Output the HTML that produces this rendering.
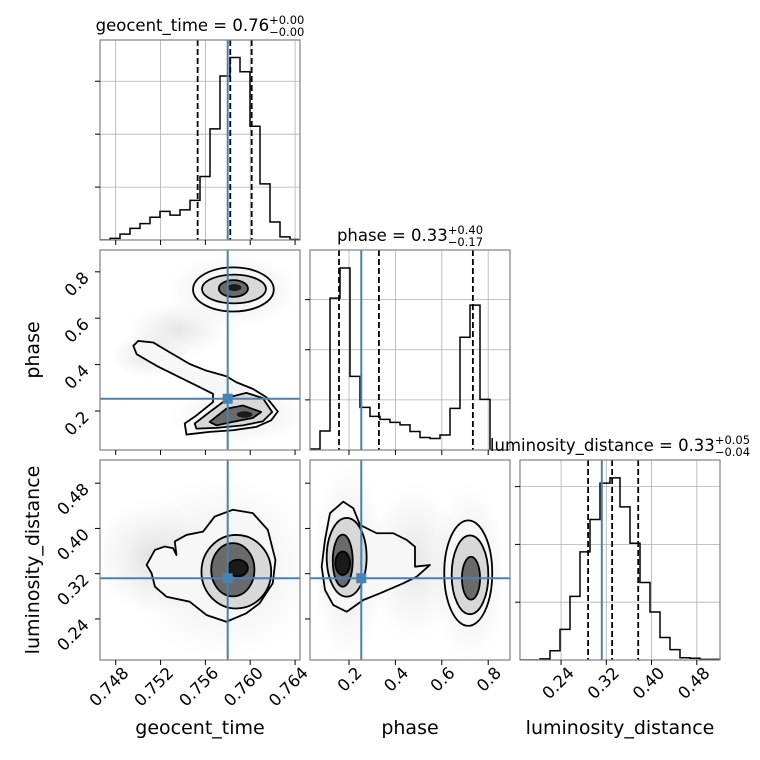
<!DOCTYPE html>
<html><head><meta charset="utf-8"><style>
html,body{margin:0;padding:0;background:#fff;}
svg{display:block;font-family:"DejaVu Sans","Liberation Sans",sans-serif;}
</style></head><body>
<svg id="c" width="760" height="760" viewBox="0 0 760 760"></svg>
<script>
// ---- data ----
const geoRange=[0.7466,0.76444];
const phaseRange=[0.032,0.894];
const lumRange=[0.1674,0.521];
const geoTicks=[0.748,0.752,0.756,0.760,0.764];
const geoTickLabels=["0.748","0.752","0.756","0.760","0.764"];
const phaseTicks=[0.2,0.4,0.6,0.8];
const phaseTickLabels=["0.2","0.4","0.6","0.8"];
const lumTicks=[0.24,0.32,0.40,0.48];
const lumTickLabels=["0.24","0.32","0.40","0.48"];
const geoHist=[0,0.03,0.11,0.22,0.31,0.43,0.54,0.47,0.57,0.75,1.2,2.1,3.1,3.45,3.18,2.15,1.06,0.34,0.06,0.01];
const phaseHist=[0.02,0.38,3.03,3.63,1.47,0.85,0.67,0.61,0.55,0.5,0.37,0.25,0.23,0.3,0.83,2.25,2.89,1.01,0,0];
const lumHist=[0,0,0.02,0.16,0.53,1.1,1.87,2.43,3.06,3.15,2.65,2.02,1.34,0.83,0.39,0.18,0.04,0.03,0.01,0.01];
const histMax=[3.78,3.99,3.46];
const geoTruth=0.75799, phaseTruth=0.253, lumTruth=0.312;
const geoQuant=[0.75531,0.75822,0.76013];
const phaseQuant=[0.157,0.329,0.734];
const lumQuant=[0.2878,0.3303,0.3764];
// contours (data units)
const gpOuterBottom=[[0.74957,0.481],[0.75001,0.502],[0.75134,0.4955],[0.75283,0.4527],[0.7546,0.4026],[0.75609,0.374],[0.75787,0.35],[0.75876,0.324],[0.76023,0.2955],[0.76142,0.26],[0.76246,0.198],[0.76187,0.16],[0.76053,0.1315],[0.75845,0.117],[0.75638,0.11],[0.75431,0.0985],[0.75416,0.146],[0.7552,0.181],[0.75668,0.2385],[0.75668,0.274],[0.7552,0.3096],[0.75342,0.3525],[0.75164,0.395],[0.74987,0.445]];
const gpMidBottom=[[0.75505,0.146],[0.75638,0.1957],[0.75816,0.26],[0.75965,0.2784],[0.76112,0.2557],[0.76196,0.1957],[0.76112,0.1555],[0.75934,0.1383],[0.75698,0.1272],[0.7552,0.1242]];
const gpInnerBottom=[[0.75638,0.153],[0.75787,0.2099],[0.75934,0.224],[0.76098,0.1957],[0.76023,0.17],[0.75845,0.153],[0.75698,0.1383]];
const gpTopEllipses=[[0.7585,0.724,0.0036,0.095],[0.75855,0.726,0.00285,0.062],[0.7585,0.728,0.0013,0.036]];
const glOuter=[[0.75076,0.3354],[0.7515,0.362],[0.75238,0.368],[0.75312,0.365],[0.75342,0.353],[0.75327,0.377],[0.75431,0.3885],[0.75579,0.3943],[0.75683,0.421],[0.75845,0.433],[0.76023,0.427],[0.76157,0.3974],[0.76225,0.3443],[0.76201,0.303],[0.76083,0.2676],[0.75965,0.25],[0.75787,0.235],[0.75609,0.247],[0.7546,0.2705],[0.75253,0.2793],[0.7515,0.297],[0.7512,0.321]];
const glEllipses=[[0.75876,0.3235,0.00311,0.065],[0.75845,0.327,0.00193,0.047],[0.7589,0.330,0.00089,0.0147]];
const plOuterLeft=[[0.0823,0.3324],[0.0966,0.3796],[0.1181,0.4269],[0.1754,0.4474],[0.2185,0.4358],[0.2474,0.4062],[0.3194,0.3915],[0.391,0.3915],[0.4487,0.3796],[0.4845,0.3678],[0.4845,0.3324],[0.549,0.3354],[0.4918,0.3147],[0.434,0.303],[0.3336,0.2853],[0.2616,0.2735],[0.1901,0.2527],[0.1323,0.2646],[0.0966,0.2912]];
const plLeftEllipses=[[0.19,0.349,0.086,0.0696],[0.173,0.343,0.043,0.046],[0.173,0.3384,0.0316,0.0207]];
const plRightEllipses=[[0.714,0.321,0.1034,0.0933],[0.7216,0.318,0.079,0.0696],[0.7259,0.312,0.039,0.038]];
const levelFills=["#f7f7f7","#d8d8d8","#6a6a6a","#1a1a1a"];

// ---- layout ----
const NS="http://www.w3.org/2000/svg";
const svg=document.getElementById('c');
const colX=[100,310,520], rowY=[40,250,460], S=200;
function el(tag,attrs,parent){const e=document.createElementNS(NS,tag);for(const k in attrs)e.setAttribute(k,attrs[k]);(parent||svg).appendChild(e);return e;}
function scaleX(range,col){return v=>colX[col]+(v-range[0])/(range[1]-range[0])*S;}
function scaleY(range,row){return v=>rowY[row]+S-(v-range[0])/(range[1]-range[0])*S;}
const ranges=[geoRange,phaseRange,lumRange];
const ticks=[geoTicks,phaseTicks,lumTicks];
const tickLabels=[geoTickLabels,phaseTickLabels,lumTickLabels];
const hists=[geoHist,phaseHist,lumHist];
const truths=[geoTruth,phaseTruth,lumTruth];
const quants=[geoQuant,phaseQuant,lumQuant];
const names=["geocent","phase","luminosity"];
const TF=16.5;

function clip(id,col,row){const cp=el('clipPath',{id:id});el('rect',{x:colX[col],y:rowY[row],width:S,height:S},cp);return 'url(#'+id+')';}
const defs=el('defs',{});
const grad=el('radialGradient',{id:'halo'},defs);
el('stop',{offset:'0','stop-color':'#aaa','stop-opacity':'0.3'},grad);
el('stop',{offset:'1','stop-color':'#bbb','stop-opacity':'0'},grad);

function frame(col,row,name){
  const r=el('rect',{x:colX[col],y:rowY[row],width:S,height:S,fill:'none',stroke:'#808080','stroke-width':1.2});
  
  
}
function xTicks(col,row,labels){
  const sx=scaleX(ranges[col],col);const y0=rowY[row]+S;
  ticks[col].forEach((t,i)=>{
    const x=sx(t);
    el('line',{x1:x,x2:x,y1:y0,y2:y0+5,stroke:'#000','stroke-width':1});
    if(labels){
      const tx=el('text',{x:x+14,y:y0+14,'text-anchor':'end','font-size':TF,transform:`rotate(-45 ${x+14} ${y0+14})`});
      tx.textContent=tickLabels[col][i];
      
      
    }
  });
}
function yTicks(col,row,axisIdx,labels){
  const sy=scaleY(ranges[axisIdx],row);const x0=colX[col];
  ticks[axisIdx].forEach((t,i)=>{
    const y=sy(t);
    el('line',{x1:x0-5,x2:x0,y1:y,y2:y,stroke:'#000','stroke-width':1});
    if(labels){
      const tx=el('text',{x:90,y:y+7,'text-anchor':'end','font-size':TF,transform:`rotate(-45 90 ${y+7})`});
      tx.textContent=tickLabels[axisIdx][i];
      
      
    }
  });
}

// ---- 1D histograms ----
for(let k=0;k<3;k++){
  const col=k,row=k;const sx=scaleX(ranges[k],col);
  const sy=v=>rowY[row]+S-v/histMax[k]*S;
  const g=el('g',{'clip-path':clip('cp'+k+k,col,row)});
  
  
  ticks[k].forEach(t=>el('line',{x1:sx(t),x2:sx(t),y1:rowY[row],y2:rowY[row]+S,stroke:'#b0b0b0','stroke-width':0.8},g));
  [1,2,3].forEach(v=>el('line',{x1:colX[col],x2:colX[col]+S,y1:sy(v),y2:sy(v),stroke:'#b0b0b0','stroke-width':0.8},g));
  const n=hists[k].length;const w=(ranges[k][1]-ranges[k][0])/n;
  let d='M'+sx(ranges[k][0])+','+sy(0);
  hists[k].forEach((v,i)=>{d+=' L'+sx(ranges[k][0]+i*w)+','+sy(v)+' L'+sx(ranges[k][0]+(i+1)*w)+','+sy(v);});
  d+=' L'+sx(ranges[k][1])+','+sy(0);
  const p=el('path',{d:d,fill:'none',stroke:'#000','stroke-width':1.5},g);
  
  
  quants[k].forEach(q=>{const l=el('line',{x1:sx(q),x2:sx(q),y1:rowY[row],y2:rowY[row]+S,stroke:'#000','stroke-width':1.8,'stroke-dasharray':'6,3'},g);
    
    });
  const tl=el('line',{x1:sx(truths[k]),x2:sx(truths[k]),y1:rowY[row],y2:rowY[row]+S,stroke:'#4682b4','stroke-width':2},g);
  
  
  frame(col,row,names[k]+'-hist');
  xTicks(col,row,k===2);
  [1,2,3].forEach(v=>el('line',{x1:colX[col]-5,x2:colX[col],y1:sy(v),y2:sy(v),stroke:'#000','stroke-width':1}));
}

// ---- 2D panels ----
function poly(pts,sx,sy,fill,g,name){
  const d='M'+pts.map(p=>sx(p[0])+','+sy(p[1])).join(' L')+' Z';
  const p=el('path',{d:d,fill:fill,stroke:'#000','stroke-width':1.8,'stroke-linejoin':'round'},g);
  
  
}
function ell(e,sx,sy,fill,g,name,stroke){
  const cx=sx(e[0]),cy=sy(e[1]);const rx=Math.abs(sx(e[0]+e[2])-cx),ry=Math.abs(sy(e[1]+e[3])-cy);
  const p=el('ellipse',{cx:cx,cy:cy,rx:rx,ry:ry,fill:fill,stroke:stroke===false?'none':'#000','stroke-width':1.8},g);
  
  
}
function halo(cx,cy,rx,ry,sx,sy,g){
  ell([cx,cy,rx,ry],sx,sy,'url(#halo)',g,'scatter-cloud',false);
}
function panel2d(col,row,xi,yi,draw){
  const sx=scaleX(ranges[xi],col),sy=scaleY(ranges[yi],row);
  const g=el('g',{'clip-path':clip('cp'+col+row,col,row)});
  
  
  draw(sx,sy,g);
  const vx=sx(truths[xi]),vy=sy(truths[yi]);
  el('line',{x1:vx,x2:vx,y1:rowY[row],y2:rowY[row]+S,stroke:'#4682b4','stroke-width':2},g);
  el('line',{x1:colX[col],x2:colX[col]+S,y1:vy,y2:vy,stroke:'#4682b4','stroke-width':2},g);
  const m=el('rect',{x:vx-5,y:vy-5,width:10,height:10,fill:'#4682b4'},g);
  
  
  frame(col,row,names[xi]+'-vs-'+names[yi]);
  xTicks(col,row,row===2);
  yTicks(col,row,yi,col===0);
}
panel2d(0,1,0,1,(sx,sy,g)=>{
  halo(0.7585,0.72,0.006,0.16,sx,sy,g);
  halo(0.7535,0.55,0.0045,0.12,sx,sy,g);
  halo(0.751,0.44,0.0035,0.1,sx,sy,g);
  halo(0.759,0.18,0.006,0.12,sx,sy,g);
  gpTopEllipses.forEach((e,i)=>ell(e,sx,sy,levelFills[i],g,'contour-top-'+i));
  ell([0.7586,0.732,0.0006,0.015],sx,sy,levelFills[3],g,'core-top',false);
  poly(gpOuterBottom,sx,sy,levelFills[0],g,'contour-bottom-outer');
  poly(gpMidBottom,sx,sy,levelFills[1],g,'contour-bottom-mid');
  poly(gpInnerBottom,sx,sy,levelFills[2],g,'contour-bottom-inner');
  ell([0.7595,0.185,0.0007,0.014],sx,sy,levelFills[3],g,'core-bottom',false);
});
panel2d(0,2,0,2,(sx,sy,g)=>{
  halo(0.7575,0.33,0.0085,0.16,sx,sy,g);
  halo(0.751,0.35,0.005,0.1,sx,sy,g);
  poly(glOuter,sx,sy,levelFills[0],g,'contour-outer');
  glEllipses.forEach((e,i)=>ell(e,sx,sy,levelFills[i+1],g,'contour-'+i));
});
panel2d(1,2,1,2,(sx,sy,g)=>{
  halo(0.2,0.34,0.16,0.18,sx,sy,g);
  halo(0.48,0.34,0.2,0.14,sx,sy,g);
  halo(0.72,0.32,0.16,0.16,sx,sy,g);
  poly(plOuterLeft,sx,sy,levelFills[0],g,'contour-left-outer');
  plLeftEllipses.forEach((e,i)=>ell(e,sx,sy,levelFills[i+1],g,'contour-left-'+i));
  plRightEllipses.forEach((e,i)=>ell(e,sx,sy,levelFills[i],g,'contour-right-'+i));
});

// ---- titles & labels ----
function title(cx,y,name,val,up,lo,dn){
  const t=el('text',{x:cx,y:y,'text-anchor':'middle','font-size':16.5});
  
  
  const a=el('tspan',{},t);a.textContent=name+' = '+val;
  const b=el('tspan',{dy:-7,'font-size':11.5},t);b.textContent=up;
  const c=el('tspan',{dy:12,'font-size':11.5},t);c.textContent=lo;
  const wUp=b.getComputedTextLength();
  c.setAttribute('dx',-wUp);
}
title(200,31,'geocent_time','0.76','+0.00','−0.00','geocent-title');
title(410,241,'phase','0.33','+0.40','−0.17','phase-title');
title(620,451,'luminosity_distance','0.33','+0.05','−0.04','luminosity-title');
function label(x,y,txt,rot,dn){
  const t=el('text',{x:x,y:y,'text-anchor':'middle','font-size':19});
  if(rot)t.setAttribute('transform',`rotate(-90 ${x} ${y})`);
  t.textContent=txt;
  
  
}
label(200,734,'geocent_time',false,'x-axis-title-geocent');
label(410,734,'phase',false,'x-axis-title-phase');
label(620,734,'luminosity_distance',false,'x-axis-title-luminosity');
label(39,350,'phase',true,'y-axis-title-phase');
label(39,560,'luminosity_distance',true,'y-axis-title-luminosity');
</script>
</body></html>
